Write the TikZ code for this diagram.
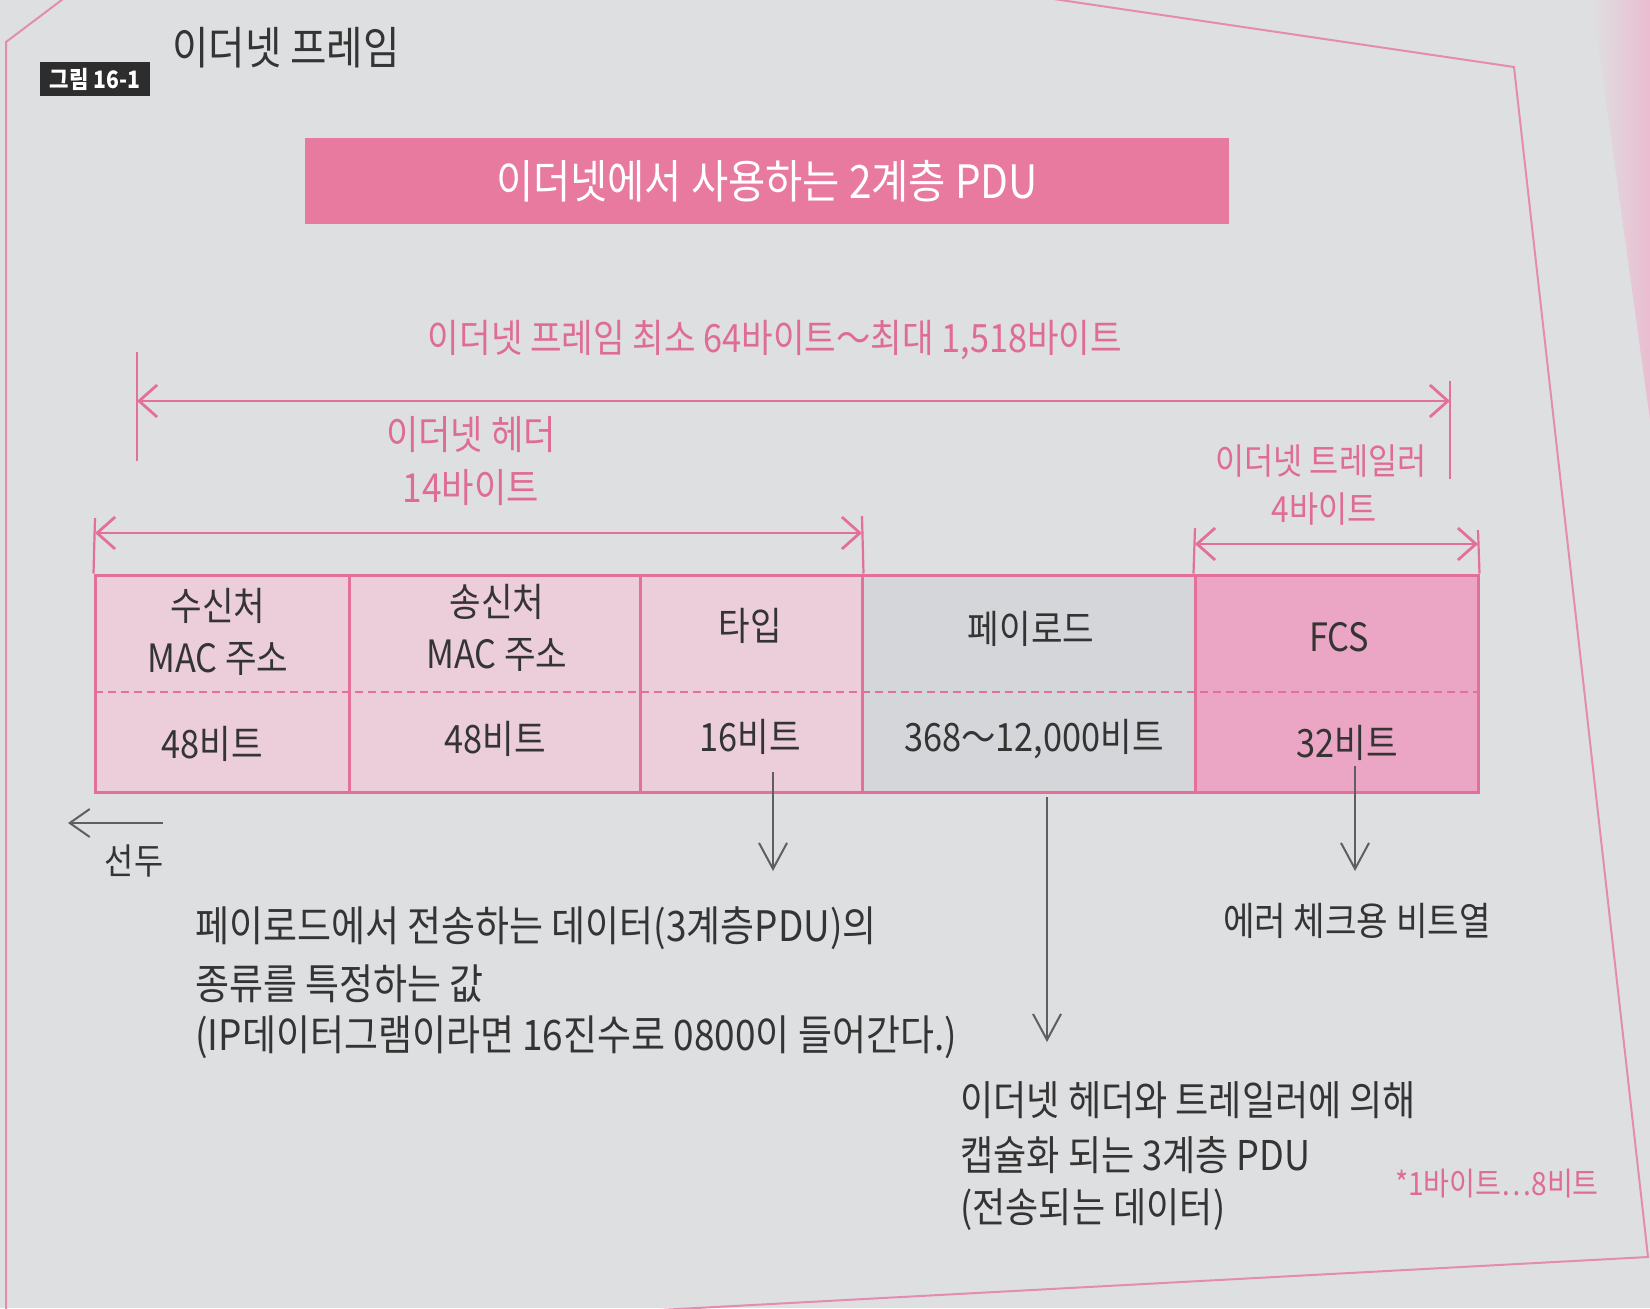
\documentclass[tikz,border=0pt]{standalone}
\usepackage{fontspec}
\setmainfont{Noto Sans CJK KR}[FakeStretch=0.88]
\usetikzlibrary{arrows.meta,fit}
\definecolor{bgc}{RGB}{222,223,225}
\definecolor{edgec}{RGB}{234,188,208}
\definecolor{framec}{RGB}{228,140,175}
\definecolor{titlec}{RGB}{231,122,158}
\definecolor{pinkt}{RGB}{222,108,148}
\definecolor{pinkl}{RGB}{226,112,152}
\definecolor{darkt}{RGB}{52,52,52}
\definecolor{grayl}{RGB}{95,95,95}
\definecolor{cellp}{RGB}{236,206,219}
\definecolor{cellg}{RGB}{212,214,217}
\definecolor{cellf}{RGB}{234,166,196}
\definecolor{capbg}{RGB}{45,45,45}
\begin{document}
\begin{tikzpicture}[x=0.5pt,y=-0.5pt,
  lbl/.style={text=pinkt, inner sep=0pt},
  dtxt/.style={text=darkt, inner sep=0pt},
  fA/.style={font=\fontsize{19.5}{23}\selectfont},
  fH/.style={font=\fontsize{20}{24}\selectfont},
  fB/.style={font=\fontsize{18}{21}\selectfont},
  fC/.style={font=\fontsize{19.5}{23}\selectfont},
  fD/.style={font=\fontsize{19.5}{24}\selectfont},
  fE/.style={font=\fontsize{21}{25}\selectfont},
  fF/.style={font=\fontsize{20.5}{25}\selectfont},
  parr/.style={draw=pinkl, line width=1.4pt, >={Straight Barb[length=9pt,width=16pt]}, <->},
  tick/.style={draw=pinkl, line width=1.1pt},
  garr/.style={draw=grayl, line width=1pt, >={Straight Barb[length=13pt,width=14pt]}, ->},
  col/.style={draw=pinkl, line width=1.5pt, inner sep=0pt}
]
\useasboundingbox (0,0) rectangle (1650,1308);
\clip (0,0) rectangle (1650,1308);
\fill[bgc] (0,0) rectangle (1650,1308);
\shade[left color=bgc,right color=edgec] (1592,0) -- (1650,0) -- (1650,420) -- cycle;
% page frame (photographed at a slant)
\draw[framec,line width=1pt] (75,-10) -- (6,42) -- (6,1345) -- (1648,1257) -- (1514,67) -- (1040,-3);

% caption and title
\node[fill=capbg, text=white, font=\fontsize{12}{14}\selectfont\bfseries, minimum width=55pt, minimum height=17pt, inner sep=2pt] (cap) at (95,79) {그림 16-1};
\node[dtxt, anchor=west, font=\fontsize{22.5}{26}\selectfont] (ttl) at (172,48) {이더넷 프레임};
\node[fill=titlec, text=white, font=\fontsize{23}{27}\selectfont, minimum width=462pt, minimum height=43pt, inner sep=0pt] (pdu) at (767,181) {이더넷에서 사용하는 2계층 PDU};

% table columns
\node[col, fill=cellp, fit={(95,575) (349,792)}] (c1) {};
\node[col, fill=cellp, fit={(349,575) (640,792)}] (c2) {};
\node[col, fill=cellp, fit={(640,575) (862,792)}] (c3) {};
\node[col, fill=cellg, fit={(862,575) (1195,792)}] (c4) {};
\node[col, fill=cellf, fit={(1195,575) (1478,792)}] (c5) {};
\coordinate (dl) at (95,692);
\coordinate (dr) at (1478,692);
\draw[pinkl, line width=1pt, dash pattern=on 4pt off 2.5pt] (dl) -- (dr);

% frame span
\node[lbl, fA] (span) at (775,340) {이더넷 프레임 최소 64바이트～최대 1,518바이트};
\coordinate (s1) at (137,401);
\coordinate (s2) at (1450,401);
\coordinate (s1t) at (137,352);
\coordinate (s1b) at (137,461);
\coordinate (s2t) at (1450,381);
\coordinate (s2b) at (1450,479);
\draw[tick] (s1t) -- (s1b);
\draw[tick] (s2t) -- (s2b);
\draw[parr] (s1) -- (s2);

% header span
\node[lbl, fH] (hdr) at (471,435) {이더넷 헤더};
\node[lbl, fH] (hdrb) at (471,488) {14바이트};
\coordinate (h1) at (95,533);
\coordinate (h2) at (862,533);
\coordinate (h1t) at (95,518);
\coordinate (h2t) at (862,516);
\draw[tick] (h1t) -- (c1.north west);
\draw[tick] (h2t) -- (c3.north east);
\draw[parr] (h1) -- (h2);

% trailer span
\node[lbl, fB] (trl) at (1321,461) {이더넷 트레일러};
\node[lbl, fB] (trlb) at (1324,509) {4바이트};
\coordinate (t1) at (1195,544);
\coordinate (t2) at (1478,544);
\coordinate (t1t) at (1195,528);
\coordinate (t2t) at (1478,530);
\draw[tick] (t1t) -- (c5.north west);
\draw[tick] (t2t) -- (c5.north east);
\draw[parr] (t1) -- (t2);

% cell texts
\node[dtxt, fC, align=center] (n1) at (218,632) {수신처\\[3pt]MAC 주소};
\node[dtxt, fC, align=center] (n2) at (497,628) {송신처\\[3pt]MAC 주소};
\node[dtxt, fC] (n3) at (750,626) {타입};
\node[dtxt, fC] (n4) at (1031,629) {페이로드};
\node[dtxt, fC] (n5) at (1339,637) {FCS};
\node[dtxt, fC] (b1) at (212,744) {48비트};
\node[dtxt, fC] (b2) at (495,739) {48비트};
\node[dtxt, fC] (b3) at (750,737) {16비트};
\node[dtxt, fC] (b4) at (1034,739) {368～12,000비트};
\node[dtxt, fC] (b5) at (1347,743) {32비트};

% head direction
\coordinate (hd1) at (163,823);
\coordinate (hd2) at (68,823);
\draw[garr, >={Straight Barb[length=10pt,width=14pt]}] (hd1) -- (hd2);
\node[dtxt, fB] (sd) at (134,861) {선두};

% down arrows
\coordinate (a1s) at (773,772);
\coordinate (a1e) at (773,871);
\coordinate (a2s) at (1047,797);
\coordinate (a2e) at (1047,1042);
\coordinate (a3s) at (1355,766);
\coordinate (a3e) at (1355,871);
\draw[garr] (a1s) -- (a1e);
\draw[garr] (a2s) -- (a2e);
\draw[garr] (a3s) -- (a3e);

% explanations
\node[dtxt, fE, anchor=west] (e1) at (195,928) {페이로드에서 전송하는 데이터(3계층PDU)의};
\node[dtxt, fE, anchor=west] (e2) at (195,984) {종류를 특정하는 값};
\node[dtxt, fE, anchor=west] (e3) at (195,1037) {(IP데이터그램이라면 16진수로 0800이 들어간다.)};
\node[dtxt, fD] (f1) at (1357,921) {에러 체크용 비트열};
\node[dtxt, fF, anchor=west] (p1) at (960,1100) {이더넷 헤더와 트레일러에 의해};
\node[dtxt, fF, anchor=west] (p2) at (960,1155) {캡슐화 되는 3계층 PDU};
\node[dtxt, fF, anchor=west] (p3) at (960,1210) {(전송되는 데이터)};
\node[lbl, font=\fontsize{16}{20}\selectfont] (note) at (1497,1184) {*1바이트…8비트};
\end{tikzpicture}
\end{document}
